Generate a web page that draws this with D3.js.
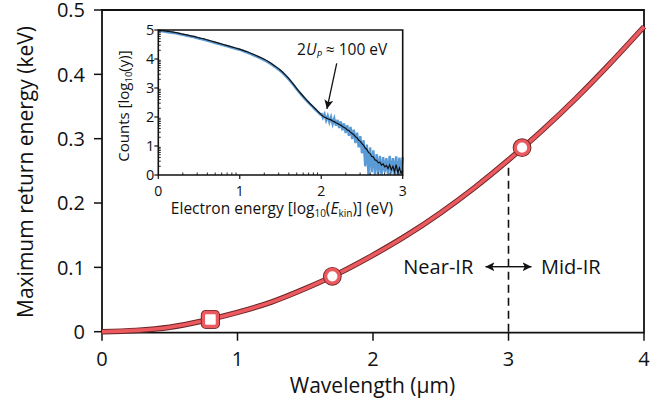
<!DOCTYPE html>
<html><head><meta charset="utf-8">
<script src="https://cdn.jsdelivr.net/npm/d3@7"></script>
<style>
body{margin:0;background:#fff}
svg{display:block}
text{font-family:"Open Sans",sans-serif;fill:#111}
</style>
</head><body>
<svg id="c" width="670" height="409"></svg>
<script>
// Main curve: maximum return energy (keV) vs wavelength (µm)
const curveX = [0,0.25,0.5,0.75,1.0,1.25,1.5,1.75,2.0,2.25,2.5,2.75,3.0,3.25,3.5,3.75,4.0];
const curveY = [0,0.002,0.007,0.017,0.030,0.046,0.067,0.091,0.119,0.150,0.185,0.224,0.267,0.313,0.363,0.417,0.474];
// Markers
const markerX = [0.8,1.7,3.1];
const markerY = [0.019,0.086,0.286];
const markerShape = ["square","circle","circle"];
// Ticks
const xTicks = [0,1,2,3,4];
const yTicks = [0,0.1,0.2,0.3,0.4,0.5];
const insetXTicks = [0,1,2,3];
const insetYTicks = [0,1,2,3,4,5];
// Inset: black spectrum
const blackX = [0,0.05,0.1,0.15,0.2,0.25,0.3,0.35,0.4,0.45,0.5,0.55,0.6,0.65,0.7,0.75,0.8,0.85,0.9,0.95,
  1.0,1.05,1.1,1.15,1.2,1.25,1.3,1.35,1.4,1.45,1.5,1.55,1.6,1.65,1.7,1.75,1.8,1.85,1.9,1.95,
  2.00,2.02,2.04,2.06,2.08,2.10,2.12,2.14,2.16,2.18,2.20,2.22,2.24,2.26,2.28,2.30,2.32,2.34,2.36,2.38,
  2.40,2.42,2.44,2.46,2.48,2.50,2.52,2.54,2.56,2.58,2.60,2.62,2.64,2.66,2.68,2.70,2.72,2.74,2.76,2.78,
  2.80,2.82,2.84,2.86,2.88,2.90,2.92,2.94,2.96,2.98,3.00];
const blackY = [5.00,4.98,4.96,4.94,4.92,4.89,4.86,4.83,4.80,4.77,4.73,4.70,4.66,4.62,4.58,4.54,4.50,4.46,4.42,4.38,
  4.34,4.29,4.24,4.18,4.12,4.06,3.99,3.91,3.82,3.72,3.61,3.48,3.33,3.16,2.98,2.81,2.65,2.50,2.36,2.22,
  2.08,2.03,1.99,1.97,1.94,1.92,1.90,1.86,1.84,1.80,1.78,1.74,1.72,1.67,1.64,1.61,1.55,1.53,1.47,1.43,
  1.39,1.32,1.28,1.20,1.16,1.08,1.02,0.93,0.88,0.78,0.74,0.64,0.62,0.52,0.50,0.42,0.44,0.34,0.38,0.28,
  0.33,0.22,0.35,0.18,0.30,0.12,0.36,0.08,0.25,0.05,0.18];
// Inset: blue (noisy) spectrum, high-energy part
const blueX = [2.00,2.02,2.04,2.06,2.08,2.10,2.12,2.14,2.16,2.18,2.20,2.22,2.24,2.26,2.28,2.30,2.32,2.34,2.36,2.38,
  2.40,2.42,2.44,2.46,2.48,2.50,2.52,2.54,2.56,2.58,2.60,2.62,2.64,2.66,2.68,2.70,2.72,2.74,2.76,2.78,
  2.80,2.82,2.84,2.86,2.88,2.90,2.92,2.94,2.96,2.98,3.00];
const blueY = [2.14,1.98,2.10,1.88,2.04,1.82,2.00,1.76,1.95,1.70,1.90,1.62,1.85,1.54,1.78,1.45,1.72,1.35,1.66,1.24,
  1.56,1.10,1.46,0.95,1.34,0.75,1.20,0.30,1.05,0.00,0.95,0.10,0.85,0.00,0.72,0.05,0.66,0.00,0.62,0.10,
  0.58,0.00,0.66,0.05,0.58,0.00,0.64,0.00,0.60,0.05,0.62];

const svg = d3.select("#c");
const x = d3.scaleLinear([0,4],[102,644]);
const y = d3.scaleLinear([0,0.5],[331.7,10]);
const ix = d3.scaleLinear([0,3],[158.3,402.7]);
const iy = d3.scaleLinear([0,5],[175,30]);

const defs = svg.append("defs");
defs.append("marker").attr("id","ah").attr("viewBox","0 0 10 10").attr("refX",10).attr("refY",5)
  .attr("markerWidth",9).attr("markerHeight",9).attr("markerUnits","userSpaceOnUse").attr("orient","auto-start-reverse")
  .append("path").attr("d","M0,0L10,5L0,10L2.5,5Z").attr("fill","#111");

// Frame
const frame = svg.append("g").attr("stroke","#111").attr("stroke-width",1.8).attr("fill","none");
frame.append("path").attr("d",`M${x(0)},${y(0)+1}H${x(4)}V${y(0.5)}H${x(0)}V${y(0)+1}`);

// Main y ticks
const gy = svg.append("g");
yTicks.forEach(t=>{
  gy.append("line").attr("x1",x(0)-8).attr("x2",x(0)).attr("y1",y(t)).attr("y2",y(t)).attr("stroke","#111").attr("stroke-width",1.5);
  gy.append("text").attr("x",x(0)-17).attr("y",y(t)).attr("dy","0.36em").attr("text-anchor","end")
    .attr("font-size",20).text(t===0?"0":t.toFixed(1));
});
const gx = svg.append("g");
xTicks.forEach(t=>{
  gx.append("line").attr("x1",x(t)).attr("x2",x(t)).attr("y1",y(0)+1).attr("y2",y(0)+9).attr("stroke","#111").attr("stroke-width",1.5);
  gx.append("text").attr("x",x(t)).attr("y",366).attr("text-anchor","middle").attr("font-size",20).text(t);
});
svg.append("text").attr("x",372.5).attr("y",393).attr("text-anchor","middle").attr("font-size",21).text("Wavelength (µm)");
svg.append("text").attr("transform","translate(33,172) rotate(-90)").attr("text-anchor","middle").attr("font-size",21)
  .text("Maximum return energy (keV)");

// Dashed line and Near/Mid IR
svg.append("line").attr("x1",x(3)).attr("x2",x(3)).attr("y1",y(0)).attr("y2",y(0.262))
  .attr("stroke","#111").attr("stroke-width",1.6).attr("stroke-dasharray","8,5");
svg.append("line").attr("x1",x(3)).attr("x2",x(2.83)).attr("y1",y(0.101)).attr("y2",y(0.101))
  .attr("stroke","#111").attr("stroke-width",1.4).attr("marker-end","url(#ah)");
svg.append("line").attr("x1",x(3)).attr("x2",x(3.17)).attr("y1",y(0.101)).attr("y2",y(0.101))
  .attr("stroke","#111").attr("stroke-width",1.4).attr("marker-end","url(#ah)");
svg.append("text").attr("x",x(2.74)).attr("y",y(0.101)).attr("dy","0.36em").attr("text-anchor","end").attr("font-size",20).text("Near-IR");
svg.append("text").attr("x",x(3.24)).attr("y",y(0.101)).attr("dy","0.36em").attr("text-anchor","start").attr("font-size",20).text("Mid-IR");

// Curve
const line = d3.line().x((d,i)=>x(curveX[i])).y((d,i)=>y(curveY[i])).curve(d3.curveMonotoneX);
svg.append("path").attr("d",line(curveX)).attr("fill","none").attr("stroke","#6b2426").attr("stroke-width",5.5);
svg.append("path").attr("d",line(curveX)).attr("fill","none").attr("stroke","#ea5a5e").attr("stroke-width",3.6);

// Markers
markerX.forEach((mx,i)=>{
  const cx = x(mx), cy = y(markerY[i]);
  const drawShape = (sw,col)=>{
    if(markerShape[i]==="square"){
      svg.append("rect").attr("x",cx-7).attr("y",cy-7).attr("width",14).attr("height",14).attr("rx",2.5)
        .attr("fill","#fff").attr("stroke",col).attr("stroke-width",sw);
    } else {
      svg.append("circle").attr("cx",cx).attr("cy",cy).attr("r",6.8)
        .attr("fill","#fff").attr("stroke",col).attr("stroke-width",sw);
    }
  };
  drawShape(5.2,"#6b2426");
  drawShape(3.4,"#ea5a5e");
});

// ---- Inset ----
const ig = svg.append("g");
ig.append("rect").attr("x",ix(0)).attr("y",iy(5)).attr("width",ix(3)-ix(0)).attr("height",iy(0)-iy(5)).attr("fill","#fff");
const smoothIdx = blackX.map((d,i)=>i).filter(i=>blackX[i]<=2.0);
const noisyIdx = blackX.map((d,i)=>i).filter(i=>blackX[i]>=2.0);
const smoothLine = d3.line().x(i=>ix(blackX[i])).y(i=>iy(blackY[i])).curve(d3.curveMonotoneX);
const noisyLine = d3.line().x(i=>ix(blackX[i])).y(i=>iy(blackY[i]));
const blueFine = d3.line().x((d,i)=>ix(blueX[i])).y((d,i)=>iy(blueY[i]));
// blue spectrum
ig.append("path").attr("d",smoothLine(smoothIdx)).attr("transform","translate(0,0.7)")
  .attr("fill","none").attr("stroke","#5b9bd5").attr("stroke-width",2.6);
ig.append("path").attr("d",blueFine(blueX)).attr("fill","none").attr("stroke","#5b9bd5").attr("stroke-width",2.4);
// black spectrum
ig.append("path").attr("d",smoothLine(smoothIdx)).attr("fill","none").attr("stroke","#111").attr("stroke-width",1.2);
ig.append("path").attr("d",noisyLine(noisyIdx)).attr("fill","none").attr("stroke","#111").attr("stroke-width",1.2);

// inset frame
ig.append("path").attr("d",`M${ix(0)},${iy(0)}H${ix(3)}V${iy(5)}H${ix(0)}Z`).attr("fill","none").attr("stroke","#111").attr("stroke-width",1.6);
// inset major ticks & labels
insetYTicks.forEach(t=>{
  ig.append("line").attr("x1",ix(0)-4).attr("x2",ix(0)).attr("y1",iy(t)).attr("y2",iy(t)).attr("stroke","#111").attr("stroke-width",1.2);
  ig.append("text").attr("x",ix(0)-4).attr("y",iy(t)).attr("dy","0.36em").attr("text-anchor","end").attr("font-size",14.5).text(t);
});
insetXTicks.forEach(t=>{
  ig.append("line").attr("x1",ix(t)).attr("x2",ix(t)).attr("y1",iy(0)).attr("y2",iy(0)+4).attr("stroke","#111").attr("stroke-width",1.2);
  ig.append("text").attr("x",ix(t)).attr("y",195.5).attr("text-anchor","middle").attr("font-size",14).text(t);
});
// minor ticks (log spacing)
const minorFr = [2,3,4,5,6,7,8,9].map(k=>Math.log10(k));
[0,1,2].forEach(d=>minorFr.forEach(f=>{
  ig.append("line").attr("x1",ix(d+f)).attr("x2",ix(d+f)).attr("y1",iy(0)).attr("y2",iy(0)-2.5).attr("stroke","#111").attr("stroke-width",0.9);
}));
[0,1,2,3,4].forEach(d=>minorFr.forEach(f=>{
  ig.append("line").attr("x1",ix(0)).attr("x2",ix(0)+2.5).attr("y1",iy(d+f)).attr("y2",iy(d+f)).attr("stroke","#111").attr("stroke-width",0.9);
}));
// inset titles
const xt = ig.append("text").attr("x",282).attr("y",213.5).attr("text-anchor","middle").attr("font-size",15.5);
xt.append("tspan").text("Electron energy [log");
xt.append("tspan").attr("font-size",10).attr("dy",3).text("10");
xt.append("tspan").attr("dy",-3).text("(");
xt.append("tspan").attr("font-style","italic").text("E");
xt.append("tspan").attr("font-size",10).attr("dy",3).text("kin");
xt.append("tspan").attr("dy",-3).text(")] (eV)");
const yt = ig.append("text").attr("transform","translate(129,106) rotate(-90)").attr("text-anchor","middle").attr("font-size",15);
yt.append("tspan").text("Counts [log");
yt.append("tspan").attr("font-size",9.5).attr("dy",3).text("10");
yt.append("tspan").attr("dy",-3).text("(y)]");
// annotation
const at = ig.append("text").attr("x",297).attr("y",55).attr("font-size",15.5);
at.append("tspan").text("2");
at.append("tspan").attr("font-style","italic").text("U");
at.append("tspan").attr("font-style","italic").attr("font-size",9.5).attr("dy",3).text("P");
at.append("tspan").attr("dy",-3).text(" ≈ 100 eV");
ig.append("line").attr("x1",ix(2.19)).attr("y1",iy(3.85)).attr("x2",ix(2.07)).attr("y2",iy(2.28))
  .attr("stroke","#111").attr("stroke-width",1.3).attr("marker-end","url(#ah)");
</script>
</body></html>
